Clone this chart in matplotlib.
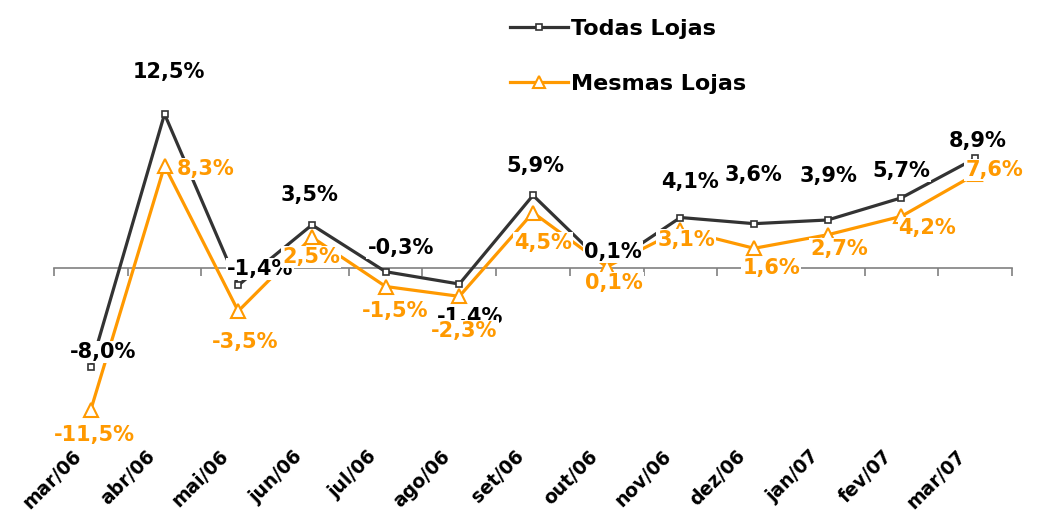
#!/usr/bin/env python3
import matplotlib
matplotlib.use('Agg')
import matplotlib.pyplot as plt
import matplotlib.transforms as mtransforms
import numpy as np

months = ['mar/06', 'abr/06', 'mai/06', 'jun/06', 'jul/06', 'ago/06', 'set/06',
          'out/06', 'nov/06', 'dez/06', 'jan/07', 'fev/07', 'mar/07']
todas = [-8.0, 12.5, -1.4, 3.5, -0.3, -1.3, 5.9, 0.1, 4.1, 3.6, 3.9, 5.7, 8.9]
todas_labels = ['-8,0%', '12,5%', '-1,4%', '3,5%', '-0,3%', '-1,4%', '5,9%',
                '0,1%', '4,1%', '3,6%', '3,9%', '5,7%', '8,9%']
mesmas = [-11.5, 8.3, -3.5, 2.5, -1.5, -2.3, 4.5, 0.1, 3.1, 1.6, 2.7, 4.2, 7.6]
mesmas_labels = ['-11,5%', '8,3%', '-3,5%', '2,5%', '-1,5%', '-2,3%', '4,5%',
                 '0,1%', '3,1%', '1,6%', '2,7%', '4,2%', '7,6%']

# label offsets in pixels (dx, dy) from the point
todas_off = [(12, 15), (4, 42), (22, 16), (-2, 30), (15, 24), (11, -33), (2, 29),
             (6, 15), (10, 36), (-1, 49), (1, 44), (0, 27), (3, 17)]
mesmas_off = [(4, -25), (41, -3), (7, -31), (-1, -20), (10, -25), (5, -35), (10, -30),
              (7, -16), (6, -10), (17, -20), (11, -14), (26, -12), (19, 4)]

dark = '#333333'
orange = '#FF9900'

fig = plt.figure(figsize=(10.49, 5.22), dpi=100)
ax = fig.add_axes([54 / 1049, (522 - 440.5) / 522, (1012 - 54) / 1049, (440.5 - 9.3) / 522])

x = np.arange(len(months))
ax.plot(x, todas, color=dark, linewidth=2.3, marker='s', markersize=5,
        markerfacecolor='white', markeredgecolor=dark, markeredgewidth=1.2,
        label='Todas Lojas', zorder=3)
ax.plot(x, mesmas, color=orange, linewidth=2.3, marker='^', markersize=10,
        markerfacecolor='white', markeredgecolor=orange, markeredgewidth=1.5,
        label='Mesmas Lojas', zorder=4)

for xi, yi, lab, off in zip(x, todas, todas_labels, todas_off):
    ax.annotate(lab, (xi, yi), xytext=off, textcoords='offset pixels',
                ha='center', va='center', fontsize=15, fontweight='bold', color='black',
                bbox=dict(boxstyle='square,pad=0.05', fc='white', ec='none'), zorder=5)
for xi, yi, lab, off in zip(x, mesmas, mesmas_labels, mesmas_off):
    ax.annotate(lab, (xi, yi), xytext=off, textcoords='offset pixels',
                ha='center', va='center', fontsize=15, fontweight='bold', color=orange,
                bbox=dict(boxstyle='square,pad=0.05', fc='white', ec='none'), zorder=6)

ax.set_xlim(-0.5, len(months) - 0.5)
ax.set_ylim(-14, 21)
for s in ['top', 'right', 'left']:
    ax.spines[s].set_visible(False)
ax.spines['bottom'].set_position(('data', 0))
ax.spines['bottom'].set_color('#808080')
ax.spines['bottom'].set_linewidth(1.2)
ax.set_yticks([])
ax.set_xticks(np.arange(len(months) + 1) - 0.5)
ax.set_xticklabels([])
ax.tick_params(axis='x', direction='out', length=6, width=1.2, color='#808080')

trans = mtransforms.blended_transform_factory(ax.transData, ax.transAxes)
for xi, m in zip(x, months):
    ax.text(xi, 0, m, transform=trans + mtransforms.ScaledTranslation(-12 / 100, -13 / 100, fig.dpi_scale_trans),
            rotation=45, rotation_mode='anchor', ha='right', va='center',
            fontsize=13.5, fontweight='bold', color='black')

ax.legend(loc='upper left', bbox_to_anchor=((490 - 54) / 958, 1.025), frameon=False,
          prop={'size': 16, 'weight': 'bold'}, labelspacing=1.6, handlelength=2.6,
          handletextpad=0.15, markerscale=0.85)

fig.savefig('out.png', dpi=100)
